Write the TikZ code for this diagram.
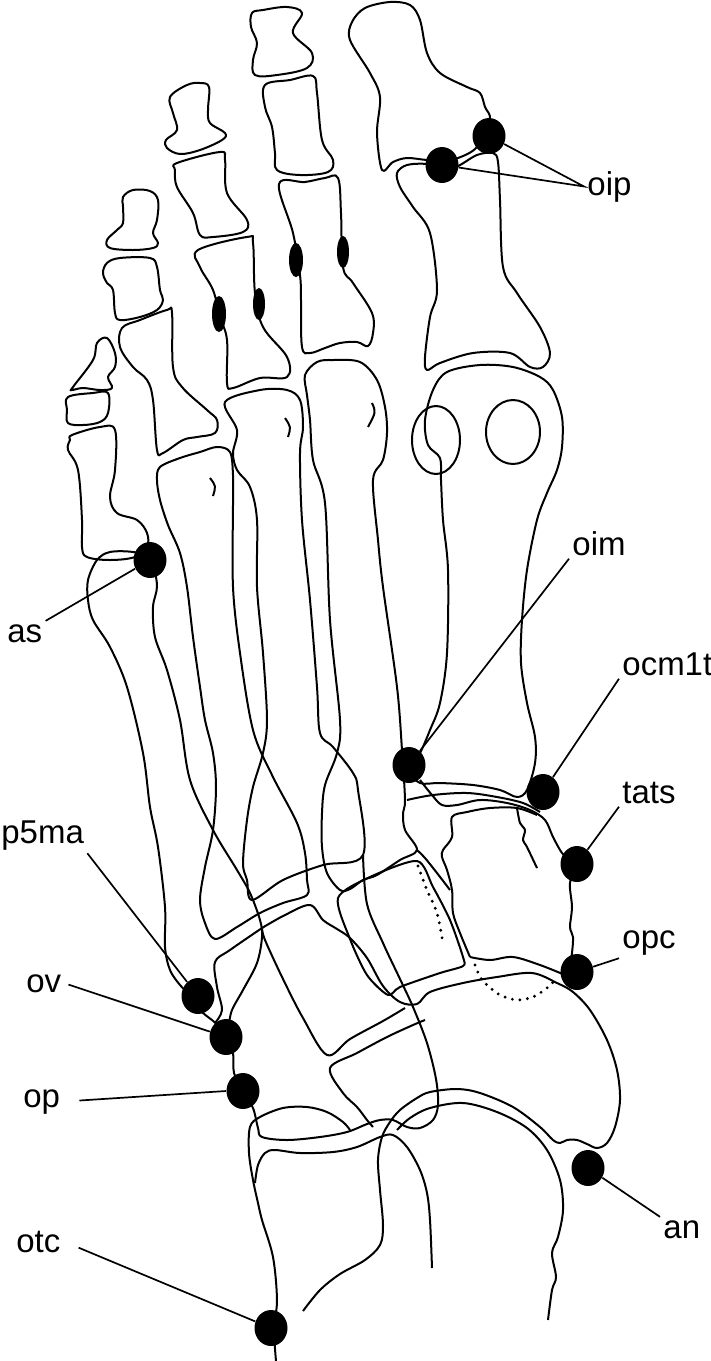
\documentclass[tikz,border=0pt]{standalone}
\usepackage{fontspec}
\setmainfont{Liberation Sans}
\usetikzlibrary{shapes.geometric}

\tikzset{
  bone/.style={draw=black, line width=1pt, line join=round},
  bonefill/.style={bone, fill=white},
  dotline/.style={draw=black, line width=1.6pt, dash pattern=on 0pt off 3.8pt, line cap=round},
  lens/.style={fill=black},
  landmark/.style={ellipse, fill=black, inner sep=0pt, minimum width=16.5pt, minimum height=18pt},
  callout/.style={draw=black, line width=0.85pt},
  lbl/.style={font=\fontsize{16.5}{19}\selectfont, inner sep=1.5pt},
}

\begin{document}
\begin{tikzpicture}[x=0.5pt,y=-0.5pt]
  \useasboundingbox (0,0) rectangle (711,1361);

  % toe 2
  \draw[bone] plot[smooth cycle, tension=0.6] coordinates {(252,13)(263,10)(287,7)(302,13)(293,33)(312,53)(307,68)(277,75)(255,75)(253,60)(257,43)(251,27)};
  \draw[bone] plot[smooth cycle, tension=0.6] coordinates {(265,85)(290,80)(313,76)(317,93)(322,140)(333,160)(328,172)(300,175)(277,170)(275,153)(272,127)(265,107)};
  \draw[bone] plot[smooth cycle, tension=0.6] coordinates {(279,184)(305,182)(325,178)(338,178)(341,213)(343,267)(353,283)(372,313)(373,333)(368,346)(357,342)(340,343)(325,348)(310,353)(302,347)(301,300)(300,275)(293,233)};
  % toe 3
  \draw[bone] plot[smooth cycle, tension=0.6] coordinates {(170,97)(187,85)(200,83)(209,87)(208,110)(210,123)(225,133)(222,140)(200,150)(180,154)(167,148)(166,140)(177,130)(173,113)};
  \draw[bone] plot[smooth cycle, tension=0.6] coordinates {(177,163)(220,152)(225,160)(227,193)(247,220)(243,232)(213,237)(200,235)(193,213)(177,187)(175,170)};
  \draw[bone] plot[smooth cycle, tension=0.6] coordinates {(198,250)(247,237)(253,243)(255,293)(263,327)(287,357)(287,377)(260,378)(233,388)(227,383)(227,340)(220,317)(213,290)(200,267)};
  % toe 4
  \draw[bone] plot[smooth cycle, tension=0.6] coordinates {(123,197)(133,190)(150,191)(158,200)(157,220)(153,233)(158,243)(153,248)(133,250)(110,248)(107,240)(117,230)(123,223)(123,207)};
  \draw[bone] plot[smooth cycle, tension=0.6] coordinates {(107,263)(120,258)(150,258)(157,267)(160,290)(163,300)(157,310)(140,317)(120,320)(115,313)(113,290)(107,283)(103,273)};
  \draw[bone] plot[smooth cycle, tension=0.6] coordinates {(122,328)(140,320)(167,310)(172,313)(173,367)(182,387)(207,410)(217,420)(215,433)(197,437)(183,440)(163,453)(157,450)(153,400)(147,380)(133,367)(120,347)};
  % toe 5
  \draw[bone] plot[smooth cycle, tension=0.6] coordinates {(73,387)(93,360)(97,343)(107,338)(115,353)(115,367)(108,377)(112,388)(100,390)(83,388)(72,390)};
  \draw[bone] plot[smooth cycle, tension=0.6] coordinates {(68,397)(93,393)(108,393)(108,413)(100,422)(83,425)(68,423)(67,410)};
  \draw[bone] plot[smooth cycle, tension=0.6] coordinates {(72,435)(100,427)(115,430)(115,470)(110,497)(117,513)(137,520)(147,533)(147,547)(135,557)(110,560)(87,557)(82,547)(82,520)(78,470)(68,450)(70,440)};
  % hallux
  \draw[bone] plot[smooth cycle, tension=0.55] coordinates {(382,170)(377,133)(380,97)(370,73)(350,40)(352,22)(365,8)(390,2)(410,5)(420,20)(427,53)(440,73)(467,87)(480,93)(485,107)(490,120)(477,147)(458,158)(443,160)(427,160)(407,158)(393,162)};
  \draw[bone] plot[smooth cycle, tension=0.55] coordinates {(397,173)(407,165)(427,164)(443,169)(458,166)(477,155)(493,153)(498,162)(500,200)(503,267)(517,293)(540,327)(550,353)(543,367)(530,367)(510,353)(473,353)(440,363)(427,370)(425,357)(430,317)(437,290)(430,233)(413,207)(400,187)};

  % joint marks on the phalanges
  \fill[lens] (296,260) ellipse[x radius=7, y radius=17];
  \fill[lens] (343,252) ellipse[x radius=6, y radius=16];
  \fill[lens] (219,314) ellipse[x radius=7, y radius=18];
  \fill[lens] (259,304) ellipse[x radius=6, y radius=16];

  % metatarsals
  \draw[bone] plot[smooth cycle, tension=0.55] coordinates {(88,580)(97,560)(110,552)(133,552)(150,558)(157,585)(153,607)(155,637)(167,670)(180,720)(190,780)(213,830)(237,870)(250,893)(260,920)(262,937)(257,963)(243,990)(232,1010)(226,1030)(212,1020)(200,1010)(190,995)(180,985)(170,970)(165,947)(165,907)(158,847)(150,807)(143,753)(127,687)(110,647)(93,620)(88,600)};
  \draw[bone] plot[smooth cycle, tension=0.55] coordinates {(160,467)(180,458)(200,452)(217,447)(230,452)(233,475)(233,505)(233,587)(240,653)(253,730)(272,775)(297,823)(305,853)(307,880)(307,895)(283,903)(260,913)(237,927)(215,939)(205,923)(200,900)(205,867)(213,830)(216,787)(213,753)(205,720)(200,687)(193,637)(187,587)(180,553)(168,525)(160,500)(157,480)};
  \draw[bone] plot[smooth cycle, tension=0.55] coordinates {(225,402)(260,390)(287,390)(300,400)(303,427)(300,453)(302,520)(310,600)(317,687)(320,733)(333,747)(353,773)(358,790)(363,855)(323,865)(283,880)(252,900)(247,880)(243,863)(247,820)(253,787)(263,753)(267,720)(263,653)(257,587)(257,520)(250,487)(237,470)(233,453)(237,430)};
  \draw[bone] plot[smooth cycle, tension=0.55] coordinates {(305,375)(317,362)(333,360)(360,362)(377,380)(385,407)(387,433)(383,460)(373,480)(378,540)(383,587)(397,687)(402,750)(405,800)(403,813)(405,830)(417,850)(400,860)(377,875)(363,880)(350,889)(340,890)(327,873)(322,847)(322,813)(325,785)(337,753)(340,720)(330,620)(325,503)(313,460)(310,420)(307,395)};
  \draw[bone] plot[smooth cycle, tension=0.55] coordinates {(433,390)(447,372)(480,365)(513,367)(540,377)(553,390)(562,417)(562,447)(557,470)(547,493)(537,520)(527,570)(522,620)(521,663)(527,703)(535,737)(535,763)(527,790)(517,797)(500,790)(473,785)(440,783)(420,783)(409,770)(420,753)(430,730)(440,703)(447,653)(448,570)(443,520)(441,480)(440,458)(428,445)(425,420)};
  \draw[bone] (436,440) ellipse[x radius=24, y radius=34];
  \draw[bone] (513,432) ellipse[x radius=27, y radius=32];
  \draw[bone] (372,403) .. controls (376,412) .. (368,427);
  \draw[bone] (285,418) .. controls (291,427) .. (288,437);
  \draw[bone] (210,478) .. controls (216,486) .. (213,496);

  % cuneiforms
  \draw[bone] plot[smooth, tension=0.55] coordinates {(470,957)(460,933)(453,913)(452,890)(447,870)(442,857)(443,850)(452,837)(452,817)(467,812)(490,808)(517,808)(537,815)};
  \draw[bone] plot[smooth, tension=0.5] coordinates {(517,808)(520,823)(525,830)(523,840)(527,847)(537,868)};
  \draw[bone] plot[smooth, tension=0.55] coordinates {(420,780)(432,795)(442,805)(457,805)(480,800)(507,803)(530,810)(545,820)(553,837)(562,853)(570,860)};
  \draw[bone] plot[smooth, tension=0.55] coordinates {(407,800)(433,795)(467,793)(497,797)(523,803)(540,812)};
  \draw[bone] plot[smooth, tension=0.55] coordinates {(577,864)(570,883)(572,907)(570,927)(573,937)(572,953)(570,965)};
  \draw[bone] plot[smooth, tension=0.55] coordinates {(470,957)(490,960)(513,957)(540,965)(565,975)};
  \draw[bone] plot[smooth, tension=0.55] coordinates {(417,850)(425,858)(437,873)(450,890)};
  \draw[bone] plot[smooth cycle, tension=0.45] coordinates {(338,898)(370,877)(417,861)(433,887)(450,920)(463,957)(463,966)(440,973)(400,987)(388,995)(367,975)(350,939)};
  \draw[dotline] plot[smooth] coordinates {(418,866)(427,890)(437,913)(443,943)};
  \draw[dotline] plot[smooth] coordinates {(475,965)(480,977)(487,985)(500,995)(517,1000)(533,997)(547,988)(555,980)};
  % lateral cuneiform and navicular
  \draw[bone] plot[smooth, tension=0.55] coordinates {(262,928)(285,915)(310,905)(323,920)(337,929)(350,938)(367,958)(383,986)(400,1002)(417,1004)(430,992)(463,983)(497,977)(532,973)(557,983)(573,992)(590,1010)(607,1040)(617,1070)(620,1100)(615,1127)(607,1143)(597,1148)(587,1144)(577,1140)(567,1140)(560,1143)(553,1140)(540,1127)(513,1107)(480,1093)(457,1089)(430,1092)(417,1098)(400,1110)(390,1122)(382,1137)(378,1160)(380,1190)(383,1225)(380,1245)(365,1260)(340,1274)(320,1290)(303,1311)};
  \draw[bone] plot[smooth, tension=0.55] coordinates {(262,928)(265,940)(283,979)(303,1018)(327,1055)(350,1039)(383,1021)(405,1008)};
  % cuboid
  \draw[bone] plot[smooth, tension=0.55] coordinates {(215,1023)(222,1010)(217,987)(215,962)(230,950)(262,928)};
  \draw[bone] plot[smooth, tension=0.55] coordinates {(373,1127)(367,1120)(357,1107)(343,1093)(330,1068)(357,1053)(387,1037)(413,1025)(425,1020)};
  \draw[bone] plot[smooth, tension=0.55] coordinates {(226,1037)(233,1053)(234,1073)(243,1091)(253,1108)(258,1128)(262,1137)(287,1140)(320,1137)(347,1132)(367,1124)(380,1120)(393,1120)(407,1127)(420,1128)(433,1120)(438,1105)(436,1079)(427,1043)(413,1007)(400,979)(383,943)(367,904)(363,855)};
  % calcaneus
  \draw[bone] plot[smooth, tension=0.55] coordinates {(350,1130)(343,1122)(327,1112)(307,1107)(283,1108)(260,1117)(250,1127)(249,1153)(253,1180)(258,1203)(262,1220)(273,1257)(277,1300)(274,1328)(276,1361)};
  \draw[bone] plot[smooth, tension=0.55] coordinates {(255,1183)(258,1165)(265,1153)(275,1150)(300,1153)(333,1152)(357,1147)(380,1137)(393,1135)(407,1147)(420,1170)(427,1193)(430,1220)(432,1268)};
  % talus
  \draw[bone] plot[smooth, tension=0.55] coordinates {(548,1320)(552,1290)(556,1277)(552,1253)(558,1237)(563,1210)(560,1180)(547,1150)(527,1128)(497,1112)(463,1103)(430,1108)(410,1118)(397,1130)};

  % landmarks
  \node[landmark] (oip1) at (442,165) {};
  \node[landmark] (oip2) at (489,136) {};
  \node[landmark] (as) at (150,560) {};
  \node[landmark] (oim) at (409,765) {};
  \node[landmark] (ocm1t) at (543,792) {};
  \node[landmark] (tats) at (577,864) {};
  \node[landmark] (opc) at (577,972) {};
  \node[landmark] (p5ma) at (198,996) {};
  \node[landmark] (ov) at (226,1037) {};
  \node[landmark] (op) at (243,1091) {};
  \node[landmark] (an) at (588,1168) {};
  \node[landmark] (otc) at (271,1328) {};

  % labels
  \node[lbl, anchor=base west] (l-oip) at (584,195) {oip};
  \node[lbl, anchor=base west] (l-oim) at (569,555) {oim};
  \node[lbl, anchor=base west] (l-ocm1t) at (619,675) {ocm1t};
  \node[lbl, anchor=base west] (l-tats) at (619,803) {tats};
  \node[lbl, anchor=base west] (l-opc) at (619,948) {opc};
  \node[lbl, anchor=base west] (l-an) at (660,1238) {an};
  \node[lbl, anchor=base west] (l-as) at (4,642) {as};
  \node[lbl, anchor=base west] (l-p5ma) at (-2,843) {p5ma};
  \node[lbl, anchor=base west] (l-ov) at (23,992) {ov};
  \node[lbl, anchor=base west] (l-op) at (20,1107) {op};
  \node[lbl, anchor=base west] (l-otc) at (13,1252) {otc};

  \draw[callout] (oip1) -- (l-oip.west) -- (oip2);
  \draw[callout] (oim) -- (l-oim.south west);
  \draw[callout] (ocm1t) -- (l-ocm1t.south west);
  \draw[callout] (tats) -- (l-tats.south west);
  \draw[callout] (opc) -- (l-opc.south west);
  \draw[callout] (an) -- (l-an.north west);
  \draw[callout] (as) -- (l-as.north east);
  \draw[callout] (p5ma) -- (l-p5ma.south east);
  \draw[callout, shorten <=2pt] (l-ov.east) -- (ov);
  \draw[callout, shorten <=8pt] (l-op.east) -- (op.west);
  \draw[callout, shorten <=8pt] (l-otc.east) -- (otc);
\end{tikzpicture}
\end{document}
